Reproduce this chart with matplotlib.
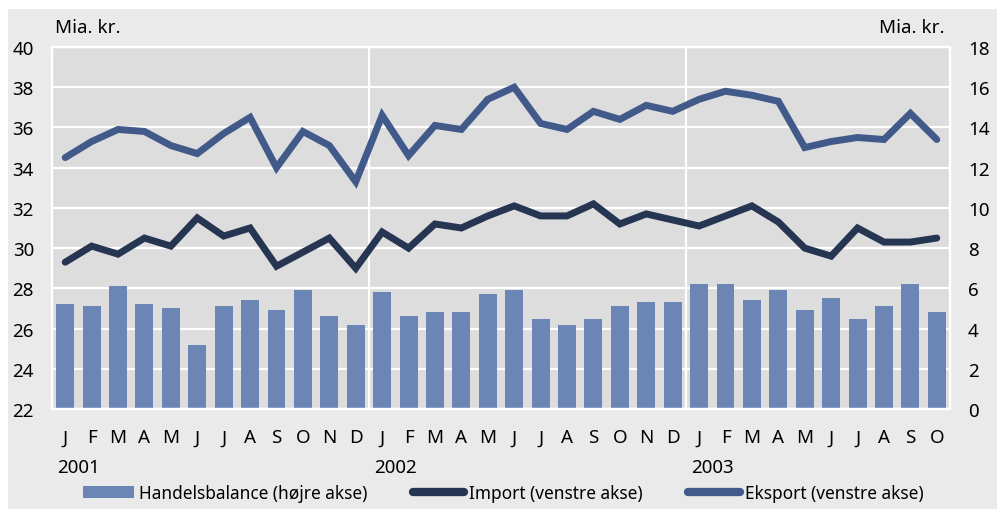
import numpy as np
import matplotlib
matplotlib.use("Agg")
import matplotlib.pyplot as plt
from matplotlib.patches import Patch
from matplotlib.lines import Line2D

# data, Jan 2001 - Oct 2003 (mia. kr.)
months = ["J", "F", "M", "A", "M", "J", "J", "A", "S", "O", "N", "D"] * 2 + \
         ["J", "F", "M", "A", "M", "J", "J", "A", "S", "O"]
years = ["2001", "2002", "2003"]

handelsbalance = [5.2, 5.1, 6.1, 5.2, 5.0, 3.2, 5.1, 5.4, 4.9, 5.9, 4.6, 4.2,
                  5.8, 4.6, 4.8, 4.8, 5.7, 5.9, 4.5, 4.2, 4.5, 5.1, 5.3, 5.3,
                  6.2, 6.2, 5.4, 5.9, 4.9, 5.5, 4.5, 5.1, 6.2, 4.8]
eksport = [34.5, 35.3, 35.9, 35.8, 35.1, 34.7, 35.7, 36.5, 34.0, 35.8, 35.1, 33.3,
           36.6, 34.6, 36.1, 35.9, 37.4, 38.0, 36.2, 35.9, 36.8, 36.4, 37.1, 36.8,
           37.4, 37.8, 37.6, 37.3, 35.0, 35.3, 35.5, 35.4, 36.7, 35.4]
importx = [29.3, 30.1, 29.7, 30.5, 30.1, 31.5, 30.6, 31.0, 29.1, 29.8, 30.5, 29.0,
           30.8, 30.0, 31.2, 31.0, 31.6, 32.1, 31.6, 31.6, 32.2, 31.2, 31.7, 31.4,
           31.1, 31.6, 32.1, 31.3, 30.0, 29.6, 31.0, 30.3, 30.3, 30.5]

plt.rcParams["font.family"] = "Noto Sans"
plt.rcParams["font.size"] = 13.5

c_bar = "#6b86b5"
c_eks = "#415a8a"
c_imp = "#253552"

fig = plt.figure(figsize=(9.97, 5.10), dpi=100)
fig.patches.append(plt.Rectangle((8 / 997, 0), 1, 500 / 510, transform=fig.transFigure,
                                 facecolor="#eaeaea", edgecolor="none", zorder=-10))

x = np.arange(len(months))
ax2 = fig.add_axes([52 / 997, 100 / 510, 898 / 997, 362 / 510])
ax = ax2.twinx()
ax.yaxis.tick_left()
ax2.yaxis.tick_right()

# bars on right axis (bottom layer)
ax2.set_facecolor("#dddddd")
ax2.bar(x, handelsbalance, width=0.68, color=c_bar, zorder=2)
ax2.set_ylim(0, 18)
ax2.set_yticks(np.arange(0, 19, 2))
ax2.grid(axis="y", color="white", lw=1.6, zorder=1)
ax2.set_axisbelow(True)
for xv in [11.5, 23.5]:
    ax2.axvline(xv, color="white", lw=1.6, zorder=1)

# lines on left axis (top layer)
ax.plot(x, importx, color=c_imp, lw=5, solid_capstyle="round", solid_joinstyle="miter")
ax.plot(x, eksport, color=c_eks, lw=5, solid_capstyle="round", solid_joinstyle="miter")
ax.set_ylim(22, 40)
ax.set_yticks(np.arange(22, 41, 2))
ax.set_xlim(-0.5, 33.5)

ax2.set_xticks(x)
ax2.set_xticklabels(months)
ax2.tick_params(axis="x", length=0, pad=14)
ax2.tick_params(axis="y", length=0, pad=13)
ax.tick_params(axis="y", length=0, pad=13)
for a in (ax, ax2):
    for s in a.spines.values():
        s.set_color("white")
        s.set_linewidth(1.6)

for i, yr in enumerate(years):
    ax2.text(i * 12 - 0.3, -0.16, yr, transform=ax2.get_xaxis_transform(),
             ha="left", va="center")

fig.text(55 / 997, 1 - 28 / 510, "Mia. kr.", ha="left", va="center")
fig.text(945 / 997, 1 - 28 / 510, "Mia. kr.", ha="right", va="center")

handles = [Patch(facecolor=c_bar, edgecolor="none"),
           Line2D([], [], color=c_imp, lw=6, solid_capstyle="round"),
           Line2D([], [], color=c_eks, lw=6, solid_capstyle="round")]
labels = ["Handelsbalance (højre akse)", "Import (venstre akse)", "Eksport (venstre akse)"]
fig.legend(handles, labels, loc="center", bbox_to_anchor=(503 / 997, 1 - 494 / 510),
           ncol=3, frameon=False, handlelength=3.0, handletextpad=0.3,
           columnspacing=2.6, borderaxespad=0, fontsize=12.4)

fig.savefig("out.png", dpi=100)
